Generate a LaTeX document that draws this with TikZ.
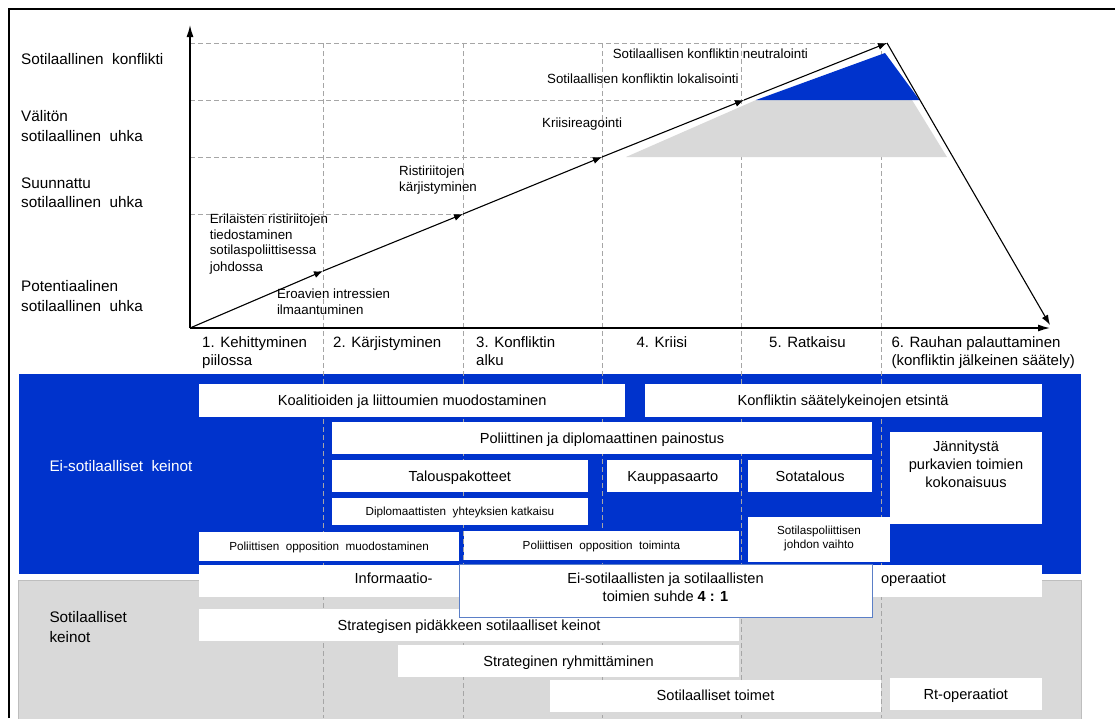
\documentclass[tikz,border=0pt]{standalone}
\usepackage{fontspec}
\setmainfont{Liberation Sans}
\usetikzlibrary{arrows.meta}
\definecolor{mblue}{RGB}{0,51,204}
\definecolor{mgray}{RGB}{217,217,217}
\definecolor{gborder}{RGB}{190,190,190}
\definecolor{gline}{RGB}{166,166,166}
\definecolor{obord}{RGB}{91,127,199}
\begin{document}
\begin{tikzpicture}[x=1pt,y=-1pt,
  lbl/.style={anchor=base west, inner sep=0pt, font=\fontsize{15.3}{18}\selectfont},
  axl/.style={anchor=base west, inner sep=0pt, font=\fontsize{15}{18}\selectfont},
  ctx/.style={anchor=base west, inner sep=0pt, font=\fontsize{13.3}{16}\selectfont},
  ctr/.style={anchor=base, inner sep=0pt, font=\fontsize{14.6}{18}\selectfont},
  sctr/.style={anchor=base, inner sep=0pt, font=\fontsize{11.7}{14}\selectfont},
  grid/.style={draw=gline, line width=0.8pt, dash pattern=on 4.5pt off 3.5pt},
  flow/.style={draw=black, line width=1.1pt, -{Latex[length=9pt,width=7pt]}},
  axis/.style={draw=black, line width=1.3pt, -{Latex[length=12pt,width=7pt]}},
  region/.style={inner sep=0pt, outer sep=0pt, draw=none},
  wbox/.style={fill=white, draw=none, inner sep=0pt, outer sep=0pt,
    font=\fontsize{14.6}{18}\selectfont, text height=10.5pt, text depth=0.3pt},
  sbox/.style={wbox, font=\fontsize{11.7}{14}\selectfont, text height=8.4pt, text depth=0.2pt},
]
\useasboundingbox (0,0) rectangle (1115,718);
\fill[white] (0,0) rectangle (1115,718);

% regions
\node[region, fill=mblue, minimum width=1062.5pt, minimum height=200pt] (nonmil) at (549.75,474) {};
\node[region, fill=mgray, draw=gborder, line width=1pt, minimum width=1062.5pt, minimum height=144pt] (mil) at (549.75,652) {};

% frame
\draw[line width=1.8pt] (9,718) -- (9,9) -- (1115,9);

% key coordinates
\coordinate (o) at (190,328);
\coordinate (ytop) at (190,25);
\coordinate (xend) at (1050,328);
\coordinate (p1) at (323,271);
\coordinate (p2) at (463,214);
\coordinate (p3) at (602,157);
\coordinate (p4) at (744,100);
\coordinate (p5) at (887,43);
\coordinate (p6) at (1050,325);

% grid lines
\foreach \x/\n in {323/va,463/vb,602/vc,741/vd,881/ve} {
  \coordinate (\n t) at (\x,43);
  \coordinate (\n b) at (\x,718);
  \draw[grid] (\n t) -- (\n b);
}
\coordinate (ha) at (190,43);
\coordinate (hb) at (190,100);
\coordinate (hc) at (190,157);
\coordinate (hd) at (190,214);
\draw[grid] (ha) -- (p5);
\draw[grid] (hb) -- (p4);
\draw[grid] (hc) -- (p3);
\draw[grid] (hd) -- (p2);

% shaded areas
\fill[mgray] (626,157) -- (756,100) -- (912,100) -- (947,157) -- cycle;
\fill[mblue] (756,100) -- (885,53) -- (919.5,100) -- cycle;

% axes and flow
\draw[axis] (o) -- (ytop);
\draw[axis] (o) -- (xend);
\draw[flow] (o) -- (p1);
\draw[flow] (p1) -- (p2);
\draw[flow] (p2) -- (p3);
\draw[flow] (p3) -- (p4);
\draw[flow] (p4) -- (p5);
\draw[flow, -{Latex[length=10pt,width=7pt]}] (p5) -- (p6);

% left level labels
\node[lbl] (l1) at (21,64.5) {Sotilaallinen\ \ konflikti};
\node[lbl] (l2a) at (21,121.2) {Välitön};
\node[lbl] (l2b) at (21,141.5) {sotilaallinen\ \ uhka};
\node[lbl] (l3a) at (21,188.2) {Suunnattu};
\node[lbl] (l3b) at (21,207.5) {sotilaallinen\ \ uhka};
\node[lbl] (l4a) at (21,291.5) {Potentiaalinen};
\node[lbl] (l4b) at (21,311.5) {sotilaallinen\ \ uhka};

% chart texts
\node[ctx] (c1a) at (209.6,223.8) {Erilaisten ristiriitojen};
\node[ctx] (c1b) at (209.6,239.5) {tiedostaminen};
\node[ctx] (c1c) at (209.6,254.8) {sotilaspoliittisessa};
\node[ctx] (c1d) at (209.6,271.5) {johdossa};
\node[ctx] (c2a) at (276.8,298.8) {Eroavien intressien};
\node[ctx] (c2b) at (276.8,314.8) {ilmaantuminen};
\node[ctx] (c3a) at (399,175.8) {Ristiriitojen};
\node[ctx] (c3b) at (399,191.5) {kärjistyminen};
\node[ctx] (c4) at (542,127.8) {Kriisireagointi};
\node[ctx] (c5) at (547,83.8) {Sotilaallisen konfliktin lokalisointi};
\node[ctx] (c6) at (612.6,58.8) {Sotilaallisen konfliktin neutralointi};

% phase labels
\node[axl] (x1a) at (202,347) {1. Kehittyminen};
\node[axl] (x1b) at (202,365) {piilossa};
\node[axl] (x2) at (333,347) {2. Kärjistyminen};
\node[axl] (x3a) at (476,347) {3. Konfliktin};
\node[axl] (x3b) at (476,365) {alku};
\node[axl] (x4) at (636.4,347) {4. Kriisi};
\node[axl] (x5) at (769,347) {5. Ratkaisu};
\node[axl] (x6a) at (891.3,347) {6. Rauhan palauttaminen};
\node[axl] (x6b) at (891.3,365) {(konfliktin jälkeinen säätely)};

% region labels
\node[lbl, text=white] (rl1) at (49.3,471.5) {Ei-sotilaalliset\ \ keinot};
\node[lbl] (rl2a) at (49.3,622.8) {Sotilaalliset};
\node[lbl] (rl2b) at (49.3,642.8) {keinot};

% non-military boxes
\node[wbox, minimum width=426.4pt, minimum height=32.7pt] (koal) at (412.2,400.35) {Koalitioiden ja liittoumien muodostaminen};
\node[wbox, minimum width=397.1pt, minimum height=32.7pt] (konf) at (843.05,400.35) {Konfliktin säätelykeinojen etsintä};
\node[wbox, minimum width=540pt, minimum height=32.3pt] (pol) at (602,438.15) {Poliittinen ja diplomaattinen painostus};
\node[wbox, minimum width=151.6pt, minimum height=92.3pt] (jann) at (965.8,477.85) {};
\node[ctr] (jann1) at (966,451.3) {Jännitystä};
\node[ctr] (jann2) at (966,469.3) {purkavien toimien};
\node[ctr] (jann3) at (966,487.3) {kokonaisuus};
\node[wbox, minimum width=255.7pt, minimum height=32pt] (talo) at (459.85,476.3) {Talouspakotteet};
\node[wbox, minimum width=132.3pt, minimum height=32pt] (kaup) at (672.85,476.3) {Kauppasaarto};
\node[wbox, minimum width=123.7pt, minimum height=32pt] (sota) at (810.15,476.3) {Sotatalous};
\node[sbox, minimum width=255.7pt, minimum height=27pt] (dipl) at (459.85,511.8) {Diplomaattisten\ \ yhteyksien katkaisu};
\node[sbox, minimum width=260.3pt, minimum height=28.7pt] (oppm) at (329.15,546.65) {Poliittisen\ \ opposition\ \ muodostaminen};
\node[sbox, minimum width=275.2pt, minimum height=28.7pt] (oppt) at (601.4,545.65) {Poliittisen\ \ opposition\ \ toiminta};
\node[sbox, minimum width=141.7pt, minimum height=45pt] (spj) at (819.15,539.2) {};
\node[sctr] (spj1) at (819,534.2) {Sotilaspoliittisen};
\node[sctr] (spj2) at (819,548.2) {johdon vaihto};

% information operations strip
\node[wbox, minimum width=843pt, minimum height=31.8pt] (info) at (620.5,580.6) {};
\node[ctr] (info1) at (393.6,583.5) {Informaatio-};
\node[ctr] (info2) at (913.5,583.5) {operaatiot};

% military boxes
\node[wbox, minimum width=540pt, minimum height=31.4pt] (strat) at (469,625) {Strategisen pidäkkeen sotilaalliset keinot};
\node[wbox, minimum width=341pt, minimum height=32.3pt] (ryhm) at (568.5,661.15) {Strateginen ryhmittäminen};
\node[wbox, minimum width=331pt, minimum height=31.7pt] (toim) at (715.5,695.85) {Sotilaalliset toimet};
\node[wbox, minimum width=151.6pt, minimum height=31.7pt] (rt) at (965.8,694.15) {Rt-operaatiot};

% ratio overlay
\node[wbox, draw=obord, line width=0.9pt, minimum width=412.4pt, minimum height=53pt] (suhde) at (665.8,591.2) {};
\node[ctr] (suhde1) at (665.5,583.5) {Ei-sotilaallisten ja sotilaallisten};
\node[ctr] (suhde2) at (665.5,601.5) {toimien suhde \textbf{4 : 1}};
\end{tikzpicture}
\end{document}
